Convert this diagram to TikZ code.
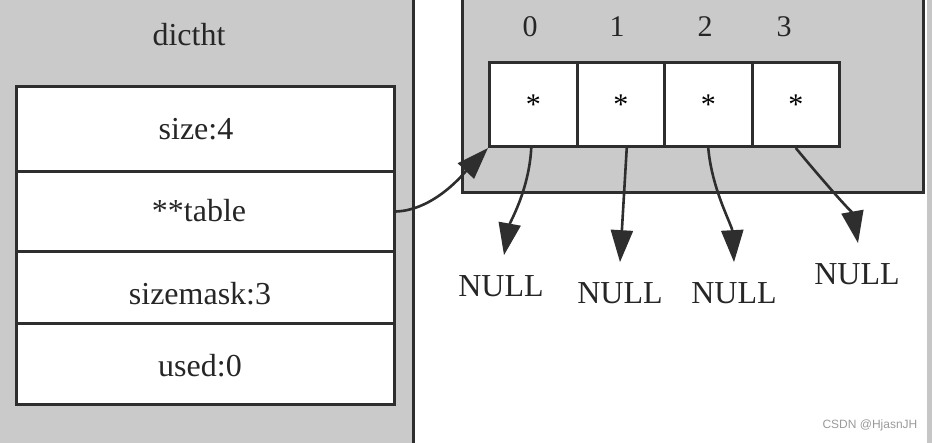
\documentclass[tikz,border=0pt]{standalone}
\usepackage{fontspec}
\setmainfont{Liberation Serif}
\newfontfamily\wmfont{Liberation Sans}
\usetikzlibrary{arrows.meta}
\definecolor{panelgray}{HTML}{CACACA}
\definecolor{linegray}{HTML}{2E2E2E}
\definecolor{stripgray}{HTML}{C6C6C6}
\definecolor{wmgray}{HTML}{9A9A9A}
\begin{document}
\begin{tikzpicture}[x=1pt,y=-1pt,
  txt/.style={font=\fontsize{32}{36}\selectfont, text=black!85, inner sep=0pt},
  smalltxt/.style={font=\fontsize{30}{34}\selectfont, text=black!85, inner sep=0pt},
  rowbox/.style={draw=linegray, line width=3pt, fill=white, minimum width=378pt, inner sep=0pt, anchor=north west},
  cellbox/.style={draw=linegray, line width=3pt, fill=white, minimum width=87.5pt, minimum height=84pt, inner sep=0pt, anchor=north west, font=\fontsize{30}{34}\selectfont},
  ptr/.style={draw=linegray, line width=2.6pt, -{Triangle[length=32pt,width=22pt]}},
  border/.style={draw=linegray, line width=3pt}]
\useasboundingbox (0,0) rectangle (932,443);
% panels
\fill[panelgray] (0,0) rectangle (413,443);
\draw[border] (413,0) -- (413,443);
\fill[panelgray] (462,0) rectangle (923,193);
\draw[border] (462,0) -- (462,193) -- (923,193) -- (923,0);
\fill[stripgray] (927,0) rectangle (932,443);
% dictht record
\node[txt] (tdict) at (189,35) {dictht};
\node[rowbox, minimum height=85pt] (rsize) at (15,85) {};
\node[rowbox, minimum height=80pt] (rtable) at (15,170) {};
\node[rowbox, minimum height=72pt] (rmask) at (15,250) {};
\node[rowbox, minimum height=81pt] (rused) at (15,322) {};
\node[txt] (tsize) at (196,129) {size:4};
\node[txt] (ttable) at (199,211) {**table};
\node[txt] (tmask) at (200,294) {sizemask:3};
\node[txt] (tused) at (200,366) {used:0};
% table cells
\node[cellbox] (c0) at (488,61) {*};
\node[cellbox] (c1) at (575.5,61) {*};
\node[cellbox] (c2) at (663,61) {*};
\node[cellbox] (c3) at (750.5,61) {*};
\node[smalltxt] (i0) at (530,27) {0};
\node[smalltxt] (i1) at (617,27) {1};
\node[smalltxt] (i2) at (705,27) {2};
\node[smalltxt] (i3) at (784,27) {3};
% NULL labels
\node[txt] (n0) at (501,286) {NULL};
\node[txt] (n1) at (620,293) {NULL};
\node[txt] (n2) at (734,293) {NULL};
\node[txt] (n3) at (857,274) {NULL};
% connectors
\draw[ptr] (rtable.east) .. controls (435,210) and (465,172) .. (c0.south west);
\draw[ptr] ([xshift=-2pt]c0.south) .. controls (529,190) and (510,222) .. ([shift={(3pt,20pt)}]n0.north);
\draw[ptr] ([xshift=6pt]c1.south) -- ([yshift=20pt]n1.north);
\draw[ptr] (c2.south) .. controls (712,190) and (732,225) .. ([yshift=20pt]n2.north);
\draw[ptr] (c3.south) .. controls (818,175) and (853,215) .. ([shift={(1pt,20pt)}]n3.north);
% watermark
\node[font=\wmfont\fontsize{12}{14}\selectfont, text=wmgray, inner sep=0pt] (wm) at (870,425) {CSDN @HjasnJH};
\end{tikzpicture}
\end{document}
